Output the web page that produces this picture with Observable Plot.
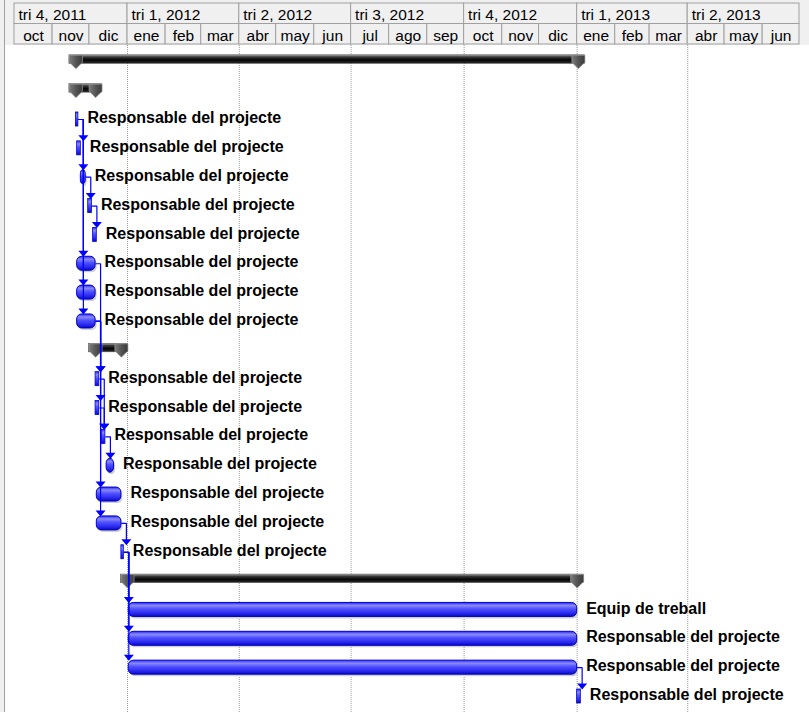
<!DOCTYPE html>
<html>
<head>
<meta charset="utf-8">
<script src="https://cdn.jsdelivr.net/npm/d3@7"></script>
<script src="https://cdn.jsdelivr.net/npm/@observablehq/plot@0.6"></script>
<style>
html, body { margin: 0; padding: 0; background: #fff; }
#wrap { position: relative; width: 809px; height: 712px; overflow: hidden; font-family: "Liberation Sans", Arial, sans-serif; }
#head { position: absolute; left: 0; top: 0; width: 809px; height: 45px; background: #f0f0f0; }
#body { position: absolute; left: 0; top: 45px; }
#strip { position: absolute; left: 0; top: 0; width: 4px; height: 712px; background: #f0f0f0; border-right: 1px solid #a0a0a0; }
svg { display: block; }
</style>
</head>
<body>
<div id="wrap"><div id="head"></div><div id="body"></div><div id="strip"></div></div>
<script>
// ---- Timeline (tick labels) ----
const timelineStart = "2011-10-01";
const timelineEnd = "2013-07-01";
const monthLabels = ["oct","nov","dic","ene","feb","mar","abr","may","jun","jul","ago","sep","oct","nov","dic","ene","feb","mar","abr","may","jun"];
const quarterLabels = ["tri 4, 2011","tri 1, 2012","tri 2, 2012","tri 3, 2012","tri 4, 2012","tri 1, 2013","tri 2, 2013"];

// ---- Tasks (one entry per Gantt row) ----
const taskKind = ["summary","summary","task","task","task","task","task","task","task","task",
                  "summary","task","task","task","task","task","task","task",
                  "summary","task","task","task","task"];
const taskStart = ["2011-11-20","2011-11-20","2011-11-20","2011-11-21","2011-11-24","2011-11-30","2011-12-04","2011-11-21","2011-11-21","2011-11-21",
                   "2011-12-06","2011-12-06","2011-12-06","2011-12-11","2011-12-15","2011-12-07","2011-12-07","2011-12-27",
                   "2012-01-01","2012-01-02","2012-01-02","2012-01-02","2013-01-01"];
const taskEnd = ["2013-01-02","2011-12-06","2011-11-22","2011-11-24","2011-11-28","2011-12-03","2011-12-07","2011-12-06","2011-12-06","2011-12-06",
                 "2011-12-27","2011-12-09","2011-12-09","2011-12-14","2011-12-21","2011-12-27","2011-12-27","2011-12-29",
                 "2013-01-01","2013-01-01","2013-01-01","2013-01-01","2013-01-04"];
const RP = "Responsable del projecte";
const taskLabel = ["","",RP,RP,RP,RP,RP,RP,RP,RP,
                   "",RP,RP,RP,RP,RP,RP,RP,
                   "","Equip de treball",RP,RP,RP];

// ---- Dependencies (row indices) ----
const linkFrom = [2,2,2,2,2,4,5,7,9,9,9,9,11,12,13,16,17,17,17,21];
const linkTo   = [3,4,7,8,9,5,6,11,11,12,15,16,13,13,14,17,19,20,21,22];

// ---- Derived tables ----
const t0 = new Date(timelineStart), t1 = new Date(timelineEnd);
const monthStarts = d3.utcMonths(t0, t1);
const months = monthStarts.map((d, i) => ({start: d, end: d3.utcMonth.offset(d, 1), label: monthLabels[i]}));
const quarterStarts = d3.utcMonths(t0, t1, 3);
const quarters = quarterStarts.map((d, i) => ({start: d, end: d3.utcMonth.offset(d, 3), label: quarterLabels[i]}));

const tasks = taskKind.map((k, i) => ({row: i, kind: k, start: new Date(taskStart[i]), end: new Date(taskEnd[i]), label: taskLabel[i]}));
const summaries = tasks.filter(d => d.kind === "summary");
const bars = tasks.filter(d => d.kind === "task");
const days = d => (d.end - d.start) / 864e5;
const longBars = bars.filter(d => days(d) >= 4);
const shortBars = bars.filter(d => days(d) < 4);
const summaryEnds = summaries.flatMap(d => [{row: d.row, x: d.start}, {row: d.row, x: d.end}]);
const labelled = tasks.filter(d => d.label);
const links = linkFrom.map((f, i) => ({from: f, to: linkTo[i], x: tasks[f].end}));

// ---- Styling helpers ----
const FONT = '"Liberation Sans", Arial, Helvetica, sans-serif';
const rowH = 28.85;
const half = rowH / 2;

const downArrow = {draw(ctx) { ctx.moveTo(-5, -3); ctx.lineTo(5, -3); ctx.lineTo(0, 3); ctx.closePath(); }};
const pentagon = {draw(ctx) { ctx.moveTo(-6.5, -6.5); ctx.lineTo(6.5, -6.5); ctx.lineTo(6.5, 0.5); ctx.lineTo(0, 7); ctx.lineTo(-6.5, 0.5); ctx.closePath(); }};

function elbow(context) {
  let pts = [];
  return {
    areaStart() {}, areaEnd() {},
    lineStart() { pts = []; },
    point(x, y) { pts.push([x, y]); },
    lineEnd() {
      const [a, b] = pts;
      const xc = a[0] + 5;
      context.moveTo(a[0], a[1]);
      context.lineTo(xc, a[1]);
      context.lineTo(xc, b[1] - 10);
    }
  };
}

// ---- Header (timescale) ----
const head = Plot.plot({
  width: 809, height: 45,
  marginTop: 3, marginBottom: 1, marginLeft: 14, marginRight: 10,
  x: {type: "utc", domain: [t0, t1], axis: null},
  y: {type: "band", domain: ["q", "m"], padding: 0, round: false, axis: null},
  style: {fontFamily: FONT, background: "transparent", overflow: "visible"},
  marks: [
    Plot.barX(quarters, {x1: "start", x2: "end", y: () => "q", fill: "#f0f0f0", stroke: "#a0a0a0"}),
    Plot.barX(months, {x1: "start", x2: "end", y: () => "m", fill: "#f0f0f0", stroke: "#a0a0a0"}),
    Plot.text(quarters, {x: "start", y: () => "q", text: "label", textAnchor: "start", dx: 4, dy: 1.5, fontSize: 15.5, fill: "#000"}),
    Plot.text(months, {x: d => new Date((+d.start + +d.end) / 2), y: () => "m", text: "label", dy: 1.5, fontSize: 15.5, fill: "#000"})
  ]
});
document.getElementById("head").appendChild(head);

// ---- Body (Gantt bars) ----
const bodyH = 667;
const mTop = 16.3 - half;
const mBottom = bodyH - (mTop + 23 * rowH);
const chart = Plot.plot({
  width: 809, height: bodyH,
  marginTop: mTop, marginBottom: mBottom, marginLeft: 14, marginRight: 10,
  x: {type: "utc", domain: [t0, t1], axis: null},
  y: {type: "band", domain: d3.range(23), padding: 0, round: false, axis: null},
  style: {fontFamily: FONT, background: "transparent", overflow: "visible"},
  marks: [
    Plot.ruleX(quarterStarts.slice(1), {stroke: "#9a9a9a", strokeDasharray: "1,1", insetTop: -mTop, insetBottom: -mBottom}),
    // shadows of the rounded bars
    Plot.barX(longBars, {x1: "start", x2: "end", y: "row", insetTop: half - 7, insetBottom: half - 7, rx: 5, dx: 1.5, dy: 2, fill: "#cfcfcf"}),
    Plot.barX(longBars, {x1: "start", x2: "end", y: "row", insetTop: half - 7, insetBottom: half - 7, rx: 5, fill: "url(#gBlue)", stroke: "#0000c8", strokeWidth: 1}),
    Plot.barX(shortBars, {x1: "start", x2: "end", y: "row", insetTop: half - 7, insetBottom: half - 7, fill: "url(#gBlue)", stroke: "#0000d8", strokeWidth: 0.8}),
    // summary bars
    Plot.barX(summaries, {x1: "start", x2: "end", y: "row", insetTop: half - 6.5, insetBottom: half - 2, insetLeft: -6.5, insetRight: -6.5, fill: "url(#gSum)", stroke: "#555", strokeWidth: 0.6}),
    Plot.dot(summaryEnds, {x: "x", y: "row", symbol: pentagon, fill: "url(#gPent)", stroke: "#9a9a9a", strokeWidth: 0.7}),
    // dependency links
    Plot.link(links, {x1: "x", x2: "x", y1: "from", y2: "to", curve: elbow, stroke: "#0000ff", strokeWidth: 1.2}),
    Plot.dot(links, {x: "x", y: "to", dx: 5, dy: -10, symbol: downArrow, fill: "#0000ff", stroke: "none"}),
    // labels
    Plot.text(labelled, {x: "end", y: "row", text: "label", textAnchor: "start", dx: 9, dy: -1.5, fontSize: 16, fontWeight: "bold", fill: "#000"})
  ]
});
const defs = document.createElementNS("http://www.w3.org/2000/svg", "defs");
defs.innerHTML = `
<linearGradient id="gBlue" x1="0" y1="0" x2="0" y2="1">
  <stop offset="0" stop-color="#2c2cf2"/>
  <stop offset="0.22" stop-color="#8a8aff"/>
  <stop offset="0.45" stop-color="#5252ff"/>
  <stop offset="0.78" stop-color="#2828ee"/>
  <stop offset="1" stop-color="#0808c0"/>
</linearGradient>
<linearGradient id="gSum" x1="0" y1="0" x2="0" y2="1">
  <stop offset="0" stop-color="#b0b0b0"/>
  <stop offset="0.25" stop-color="#3a3a3a"/>
  <stop offset="0.6" stop-color="#050505"/>
  <stop offset="1" stop-color="#2a2a2a"/>
</linearGradient>
<linearGradient id="gPent" x1="0" y1="0" x2="1" y2="0">
  <stop offset="0" stop-color="#7a7a7a"/>
  <stop offset="0.5" stop-color="#555"/>
  <stop offset="1" stop-color="#3a3a3a"/>
</linearGradient>`;
chart.insertBefore(defs, chart.firstChild);
document.getElementById("body").appendChild(chart);
</script>
</body>
</html>
